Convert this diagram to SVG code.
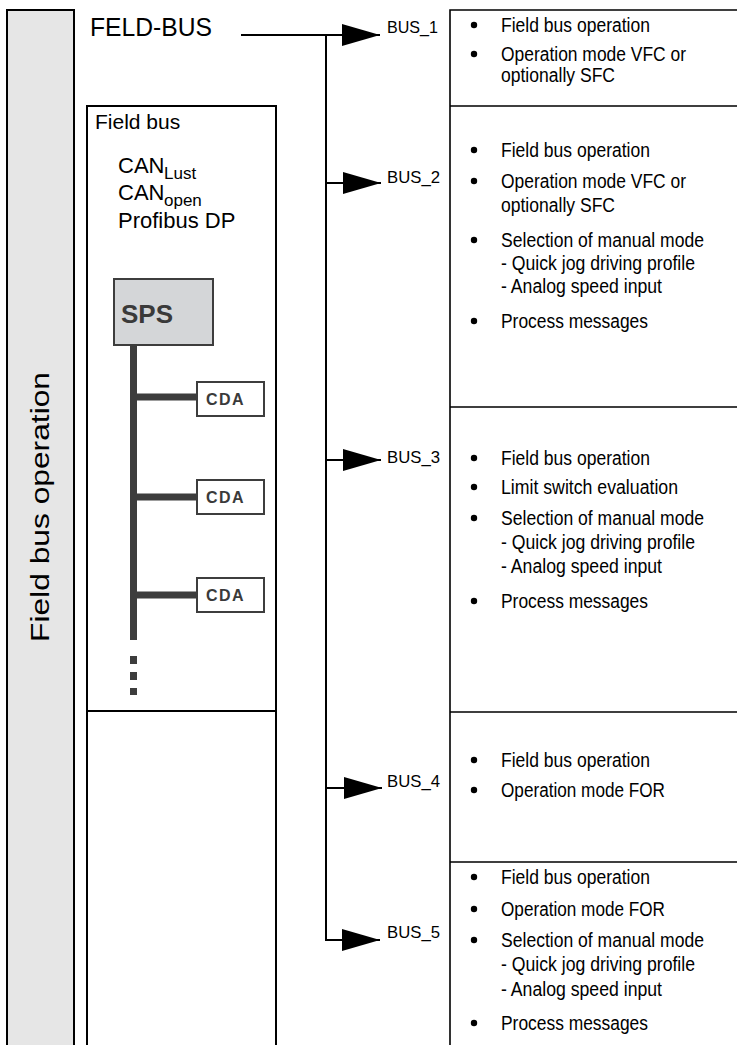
<svg xmlns="http://www.w3.org/2000/svg" width="737" height="1045" viewBox="0 0 737 1045">
<defs>
<style>
text { font-family: "Liberation Sans", Arial, Helvetica, sans-serif; fill:#000; }
.c { font-size:20px; }
.lbl { font-size:17px; }
.fb { font-size:22px; }
.sub { font-size:17px; }
.bold { font-weight:bold; fill:#3a3a3a; }
.frame { fill:none; stroke:#000; stroke-width:2; }
.rule { stroke:#000; stroke-width:1.6; fill:none; }
.dot { fill:#000; }
.wire { stroke:#000; stroke-width:2; fill:none; }
.trunk { stroke:#3d3d3d; stroke-width:7; fill:none; }
.dev { fill:#fff; stroke:#3d3d3d; stroke-width:2; }
.sq { fill:#3d3d3d; }
</style>
<marker id="arr" markerUnits="userSpaceOnUse" markerWidth="40" markerHeight="24" refX="38" refY="11" orient="auto"><path d="M0,0 L38,11 L0,22 Z" fill="#000"/></marker>
</defs>

<g id="side-column">
<rect x="7" y="10" width="67" height="1050" fill="#e6e6e6" stroke="#000" stroke-width="2"/>
<text transform="translate(49,507) rotate(-90)" text-anchor="middle" textLength="270" lengthAdjust="spacingAndGlyphs" style="font-size:26px">Field bus operation</text>
</g>

<g id="feld-bus-title">
<text x="90" y="36" style="font-size:26px" textLength="122" lengthAdjust="spacingAndGlyphs">FELD-BUS</text>
</g>

<g id="fieldbus-box">
<rect class="frame" x="87" y="106" width="189" height="605"/>
<text class="fb" x="95" y="129" style="font-size:21px">Field bus</text>
<text class="fb" x="118" y="173">CAN</text>
<text class="sub" x="164" y="179">Lust</text>
<text class="fb" x="118" y="200">CAN</text>
<text class="sub" x="164" y="206">open</text>
<text class="fb" x="118" y="228">Profibus DP</text>
</g>

<g id="empty-box">
<rect class="frame" x="87" y="711" width="189" height="345"/>
</g>

<g id="bus-trunk">
<path class="trunk" d="M133.5,345 V640 M133.5,397 H198 M133.5,497 H198 M133.5,595 H198"/>
<rect class="sq" x="130" y="656" width="7" height="8"/>
<rect class="sq" x="130" y="672" width="7" height="8"/>
<rect class="sq" x="130" y="688" width="7" height="7"/>
</g>

<g id="sps">
<rect x="114" y="279" width="99" height="66" fill="#d4d6d8" stroke="#3d3d3d" stroke-width="2"/>
<text class="bold" x="121" y="323" style="font-size:26px">SPS</text>
</g>

<g id="cda1">
<rect class="dev" x="197" y="382" width="67" height="34"/>
<text class="bold" x="206" y="405" style="font-size:16px;letter-spacing:1.5px">CDA</text>
</g>
<g id="cda2">
<rect class="dev" x="197" y="480" width="67" height="34"/>
<text class="bold" x="206" y="503" style="font-size:16px;letter-spacing:1.5px">CDA</text>
</g>
<g id="cda3">
<rect class="dev" x="197" y="578" width="67" height="34"/>
<text class="bold" x="206" y="601" style="font-size:16px;letter-spacing:1.5px">CDA</text>
</g>

<g id="connectors">
<path class="wire" d="M241,35 H380" marker-end="url(#arr)"/>
<path class="wire" d="M326,35 V941"/>
<path class="wire" d="M325,183 H381" marker-end="url(#arr)"/>
<path class="wire" d="M325,460 H381" marker-end="url(#arr)"/>
<path class="wire" d="M325,788 H382" marker-end="url(#arr)"/>
<path class="wire" d="M325,940 H380" marker-end="url(#arr)"/>
</g>

<g id="bus-labels">
<text class="lbl" x="387" y="33" textLength="51" lengthAdjust="spacingAndGlyphs">BUS_1</text>
<text class="lbl" x="387" y="183" textLength="53" lengthAdjust="spacingAndGlyphs">BUS_2</text>
<text class="lbl" x="387" y="463" textLength="53" lengthAdjust="spacingAndGlyphs">BUS_3</text>
<text class="lbl" x="387" y="787" textLength="53" lengthAdjust="spacingAndGlyphs">BUS_4</text>
<text class="lbl" x="387" y="938" textLength="53" lengthAdjust="spacingAndGlyphs">BUS_5</text>
</g>

<g id="table-rules">
<path class="rule" d="M737,10 H450 V1050"/>
<path class="rule" d="M450,106 H737 M450,407 H737 M450,712 H737 M450,862 H737"/>
</g>

<g id="row-bus1">
<circle class="dot" cx="474" cy="25" r="3.2"/>
<text class="c" x="501" y="32" textLength="149" lengthAdjust="spacingAndGlyphs">Field bus operation</text>
<circle class="dot" cx="474" cy="54" r="3.2"/>
<text class="c" x="501" y="61" textLength="185" lengthAdjust="spacingAndGlyphs">Operation mode VFC or</text>
<text class="c" x="501" y="82" textLength="114" lengthAdjust="spacingAndGlyphs">optionally SFC</text>
</g>

<g id="row-bus2">
<circle class="dot" cx="474" cy="150" r="3.2"/>
<text class="c" x="501" y="157" textLength="149" lengthAdjust="spacingAndGlyphs">Field bus operation</text>
<circle class="dot" cx="474" cy="181" r="3.2"/>
<text class="c" x="501" y="188" textLength="185" lengthAdjust="spacingAndGlyphs">Operation mode VFC or</text>
<text class="c" x="501" y="212" textLength="114" lengthAdjust="spacingAndGlyphs">optionally SFC</text>
<circle class="dot" cx="474" cy="240" r="3.2"/>
<text class="c" x="501" y="247" textLength="203" lengthAdjust="spacingAndGlyphs">Selection of manual mode</text>
<text class="c" x="501" y="270" textLength="194" lengthAdjust="spacingAndGlyphs">- Quick jog driving profile</text>
<text class="c" x="501" y="293" textLength="161" lengthAdjust="spacingAndGlyphs">- Analog speed input</text>
<circle class="dot" cx="474" cy="321" r="3.2"/>
<text class="c" x="501" y="328" textLength="147" lengthAdjust="spacingAndGlyphs">Process messages</text>
</g>

<g id="row-bus3">
<circle class="dot" cx="474" cy="458" r="3.2"/>
<text class="c" x="501" y="465" textLength="149" lengthAdjust="spacingAndGlyphs">Field bus operation</text>
<circle class="dot" cx="474" cy="487" r="3.2"/>
<text class="c" x="501" y="494" textLength="177" lengthAdjust="spacingAndGlyphs">Limit switch evaluation</text>
<circle class="dot" cx="474" cy="518" r="3.2"/>
<text class="c" x="501" y="525" textLength="203" lengthAdjust="spacingAndGlyphs">Selection of manual mode</text>
<text class="c" x="501" y="549" textLength="194" lengthAdjust="spacingAndGlyphs">- Quick jog driving profile</text>
<text class="c" x="501" y="573" textLength="161" lengthAdjust="spacingAndGlyphs">- Analog speed input</text>
<circle class="dot" cx="474" cy="601" r="3.2"/>
<text class="c" x="501" y="608" textLength="147" lengthAdjust="spacingAndGlyphs">Process messages</text>
</g>

<g id="row-bus4">
<circle class="dot" cx="474" cy="760" r="3.2"/>
<text class="c" x="501" y="767" textLength="149" lengthAdjust="spacingAndGlyphs">Field bus operation</text>
<circle class="dot" cx="474" cy="790" r="3.2"/>
<text class="c" x="501" y="797" textLength="164" lengthAdjust="spacingAndGlyphs">Operation mode FOR</text>
</g>

<g id="row-bus5">
<circle class="dot" cx="474" cy="877" r="3.2"/>
<text class="c" x="501" y="884" textLength="149" lengthAdjust="spacingAndGlyphs">Field bus operation</text>
<circle class="dot" cx="474" cy="909" r="3.2"/>
<text class="c" x="501" y="916" textLength="164" lengthAdjust="spacingAndGlyphs">Operation mode FOR</text>
<circle class="dot" cx="474" cy="940" r="3.2"/>
<text class="c" x="501" y="947" textLength="203" lengthAdjust="spacingAndGlyphs">Selection of manual mode</text>
<text class="c" x="501" y="971" textLength="194" lengthAdjust="spacingAndGlyphs">- Quick jog driving profile</text>
<text class="c" x="501" y="996" textLength="161" lengthAdjust="spacingAndGlyphs">- Analog speed input</text>
<circle class="dot" cx="474" cy="1023" r="3.2"/>
<text class="c" x="501" y="1030" textLength="147" lengthAdjust="spacingAndGlyphs">Process messages</text>
</g>
</svg>
